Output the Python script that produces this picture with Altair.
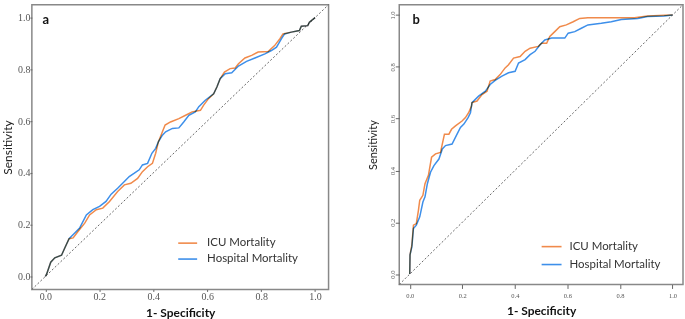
import altair as alt
import pandas as pd

SERIES = ["ICU Mortality", "Hospital Mortality"]
COLORS = ["#F08A4B", "#3D8FEA"]
TICKS = [0.0, 0.2, 0.4, 0.6, 0.8, 1.0]

# ---- panel a ----
a_icu_x = [0, 0.005, 0.02, 0.035, 0.06, 0.072, 0.088, 0.103, 0.121, 0.146, 0.164, 0.189, 0.213, 0.238,
           0.268, 0.293, 0.317, 0.342, 0.36, 0.379, 0.397, 0.409, 0.419, 0.434, 0.444, 0.464, 0.495,
           0.52, 0.544, 0.575, 0.587, 0.605, 0.624, 0.636, 0.648, 0.664, 0.685, 0.703, 0.716, 0.74,
           0.765, 0.789, 0.826, 0.85, 0.869, 0.881, 0.912, 0.942, 0.949, 0.973, 0.979, 1.0]
a_icu_y = [0, 0.01, 0.055, 0.072, 0.082, 0.11, 0.146, 0.149, 0.174, 0.206, 0.238, 0.258, 0.264, 0.29,
           0.328, 0.354, 0.36, 0.379, 0.405, 0.424, 0.437, 0.476, 0.52, 0.559, 0.585, 0.597, 0.61,
           0.623, 0.636, 0.642, 0.662, 0.687, 0.706, 0.732, 0.764, 0.79, 0.803, 0.805, 0.822, 0.844,
           0.854, 0.867, 0.869, 0.892, 0.918, 0.937, 0.944, 0.95, 0.967, 0.969, 0.982, 1.0]
a_hosp_x = [0, 0.005, 0.02, 0.035, 0.06, 0.072, 0.088, 0.109, 0.127, 0.152, 0.176, 0.201, 0.225, 0.244,
            0.268, 0.293, 0.311, 0.33, 0.348, 0.36, 0.379, 0.395, 0.409, 0.419, 0.434, 0.446, 0.471,
            0.495, 0.513, 0.532, 0.556, 0.569, 0.593, 0.624, 0.636, 0.648, 0.667, 0.691, 0.716, 0.746,
            0.777, 0.814, 0.838, 0.857, 0.875, 0.887, 0.912, 0.942, 0.949, 0.973, 0.979, 1.0]
a_hosp_y = [0, 0.01, 0.055, 0.072, 0.082, 0.11, 0.146, 0.168, 0.187, 0.238, 0.258, 0.271, 0.29, 0.318,
            0.341, 0.367, 0.386, 0.399, 0.412, 0.431, 0.437, 0.476, 0.495, 0.52, 0.546, 0.559, 0.572,
            0.574, 0.597, 0.623, 0.636, 0.656, 0.681, 0.706, 0.732, 0.764, 0.783, 0.787, 0.813, 0.831,
            0.844, 0.86, 0.873, 0.886, 0.918, 0.937, 0.944, 0.95, 0.967, 0.969, 0.982, 1.0]

# ---- panel b ----
b_icu_x = [0, 0.001, 0.008, 0.014, 0.025, 0.033, 0.038, 0.05, 0.058, 0.071, 0.083, 0.098, 0.117, 0.132,
           0.149, 0.159, 0.174, 0.199, 0.212, 0.224, 0.235, 0.237, 0.256, 0.275, 0.294, 0.306, 0.325,
           0.344, 0.363, 0.376, 0.395, 0.42, 0.439, 0.458, 0.489, 0.502, 0.521, 0.533, 0.552, 0.571,
           0.596, 0.622, 0.647, 0.678, 0.855, 0.905, 0.994, 1.0]
b_icu_y = [0, 0.074, 0.112, 0.189, 0.195, 0.246, 0.285, 0.304, 0.349, 0.381, 0.451, 0.464, 0.47, 0.54,
           0.54, 0.559, 0.572, 0.591, 0.604, 0.623, 0.649, 0.662, 0.668, 0.693, 0.706, 0.745, 0.751,
           0.77, 0.796, 0.808, 0.834, 0.84, 0.86, 0.872, 0.879, 0.891, 0.891, 0.917, 0.936, 0.955,
           0.962, 0.974, 0.987, 0.99, 0.99, 0.996, 1.0, 1.0]
b_hosp_x = [0, 0.001, 0.008, 0.014, 0.025, 0.038, 0.05, 0.058, 0.067, 0.079, 0.092, 0.111, 0.124, 0.136,
            0.161, 0.18, 0.193, 0.206, 0.222, 0.231, 0.237, 0.262, 0.288, 0.306, 0.325, 0.351, 0.376,
            0.401, 0.414, 0.439, 0.458, 0.477, 0.496, 0.514, 0.54, 0.59, 0.603, 0.628, 0.653, 0.678,
            0.729, 0.767, 0.805, 0.868, 0.905, 0.968, 1.0]
b_hosp_y = [0, 0.074, 0.105, 0.176, 0.189, 0.221, 0.278, 0.298, 0.349, 0.393, 0.419, 0.444, 0.483, 0.496,
            0.502, 0.54, 0.566, 0.579, 0.604, 0.623, 0.662, 0.687, 0.706, 0.732, 0.748, 0.764, 0.777,
            0.783, 0.815, 0.828, 0.847, 0.86, 0.885, 0.904, 0.911, 0.911, 0.93, 0.936, 0.949, 0.962,
            0.968, 0.974, 0.983, 0.987, 0.994, 0.996, 1.0]


def frame(xs_list, ys_list):
    rows = []
    for s, xs, ys in zip(SERIES, xs_list, ys_list):
        for i, (x, y) in enumerate(zip(xs, ys)):
            rows.append({"x": x, "y": y, "series": s, "order": i})
    return pd.DataFrame(rows)


def panel(df, label, W, H, lo, hi, small, legx, legy, symlen, rowpad, laboff, lab_dx, lab_dy):
    lab_size = 6.5 if small else 10
    xaxis = alt.Axis(values=TICKS, format=".1f", title="1- Specificity", grid=False, domain=False,
                     labelFont="Liberation Serif", labelFontSize=lab_size, labelColor="#555",
                     tickColor="#666", tickSize=4 if small else 2, labelPadding=4 if small else 0,
                     titleFont="Lato", titleFontSize=12, titleFontWeight="bold", titleColor="#111",
                     titlePadding=7 if small else 6)
    yaxis = alt.Axis(values=TICKS, format=".1f", title="Sensitivity", grid=False, domain=False,
                     labelFont="Liberation Serif", labelFontSize=lab_size, labelColor="#555",
                     tickColor="#666", tickSize=4 if small else 2, labelPadding=3 if small else 0,
                     labelAngle=270 if small else 0,
                     labelBaseline="middle",
                     titleFont="Lato", titleFontSize=11 if small else 12, titleFontWeight="normal",
                     titleColor="#222", titlePadding=11 if small else 3)
    xs = alt.Scale(domain=[lo, hi], nice=False, zero=False)
    ys = alt.Scale(domain=[lo, hi], nice=False, zero=False)
    lines = alt.Chart(df).mark_line(strokeWidth=1.5, blend="multiply").encode(
        x=alt.X("x:Q", scale=xs, axis=xaxis),
        y=alt.Y("y:Q", scale=ys, axis=yaxis),
        color=alt.Color("series:N", sort=SERIES,
                        scale=alt.Scale(domain=SERIES, range=COLORS),
                        legend=alt.Legend(title=None, orient="none", legendX=legx, legendY=legy,
                                          symbolType="stroke", symbolSize=symlen * symlen,
                                          symbolStrokeWidth=1.6, labelFont="Lato",
                                          labelFontSize=11.5, labelColor="#333",
                                          rowPadding=rowpad, labelOffset=laboff)),
        order="order:Q",
    )
    diag = alt.Chart(pd.DataFrame({"k": [0]})).mark_rule(
        strokeDash=[2, 2], color="#555", strokeWidth=0.9
    ).encode(x=alt.value(0), y=alt.value(H), x2=alt.value(W), y2=alt.value(0))
    txt = alt.Chart(pd.DataFrame({"label": [label]})).mark_text(
        font="Lato", fontWeight="bold", fontSize=13, color="#111", baseline="middle", align="center"
    ).encode(text="label:N", x=alt.value(lab_dx), y=alt.value(lab_dy))
    return alt.layer(diag, lines, txt).properties(width=W, height=H)


dfa = frame([a_icu_x, a_hosp_x], [a_icu_y, a_hosp_y])
dfb = frame([b_icu_x, b_hosp_x], [b_icu_y, b_hosp_y])

left = panel(dfa, "a", 298, 286, -0.05, 1.05, False, 146, 229, 19, 0, 9, 14, 15)
right = panel(dfb, "b", 285, 281, -0.04, 1.04, True, 142, 232, 20, 1, 7, 17, 15)

chart = alt.hconcat(left, right, spacing=36).resolve_scale(color="independent").resolve_legend(
    color="independent"
).properties(
    padding={"left": 0, "top": 2, "right": 0, "bottom": 0},
    background="white",
).configure_view(stroke="#888", strokeWidth=1.5)

chart.save("out.html", embed_options={"renderer": "svg", "actions": False})
